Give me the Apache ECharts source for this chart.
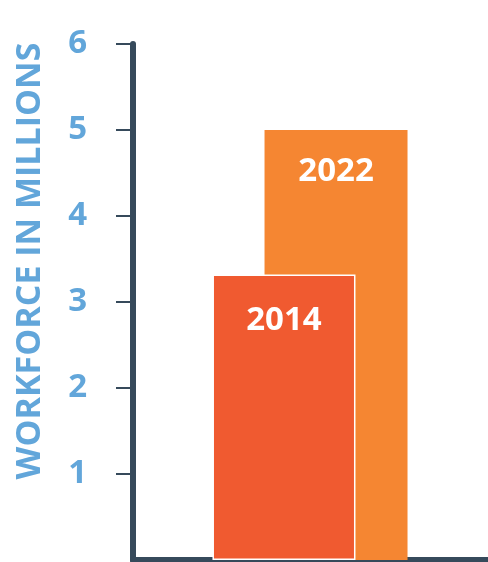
<!DOCTYPE html>
<html>
<head>
<meta charset="utf-8">
<script src="https://cdn.jsdelivr.net/npm/echarts@6/dist/echarts.min.js"></script>
<style>
  html, body { margin: 0; padding: 0; background: #fff; }
  #chart { width: 488px; height: 562px; }
</style>
</head>
<body>
<div id="chart"></div>
<script>
// data
const categories = ['Workforce'];
const years = ['2014', '2022'];
const values2014 = [3.32];
const values2022 = [5.0];
const yTicks = [1, 2, 3, 4, 5, 6];

const axisColor = '#364a5b';
const labelBlue = '#62a6da';

const myChart = echarts.init(document.getElementById('chart'));

const option = {
    animation: false,
    grid: { left: 133, right: 1, top: 44, bottom: 2, containLabel: false },
    xAxis: {
        type: 'category',
        data: categories,
        axisLine: { lineStyle: { color: axisColor, width: 6 } },
        axisTick: { show: false },
        axisLabel: { show: false }
    },
    yAxis: {
        type: 'value',
        min: 0,
        max: 6,
        interval: 1,
        name: 'WORKFORCE IN MILLIONS',
        nameLocation: 'middle',
        nameRotate: 90,
        nameGap: 86,
        nameTextStyle: {
            color: labelBlue,
            fontFamily: 'Open Sans',
            fontWeight: 'bold',
            fontSize: 34,
            // nudge the title up so it sits where the original does
            padding: [0, 0, 0, 82]
        },
        axisLine: { show: true, lineStyle: { color: axisColor, width: 6 } },
        axisTick: {
            show: true,
            length: 17,
            customValues: yTicks,
            lineStyle: { color: axisColor, width: 2 }
        },
        axisLabel: {
            customValues: yTicks,
            margin: 46,
            color: labelBlue,
            fontFamily: 'Open Sans',
            fontWeight: 'bold',
            fontSize: 33
        },
        splitLine: { show: false }
    },
    series: [
        {
            name: years[0],
            type: 'bar',
            data: values2014,
            barWidth: 143,
            barGap: '-63.6%',
            z: 3,
            itemStyle: { color: '#f05a30', borderColor: '#ffffff', borderWidth: 1.5 },
            label: {
                show: true,
                position: 'insideTop',
                distance: 30,
                formatter: years[0],
                color: '#fff',
                fontFamily: 'Open Sans',
                fontWeight: 'bold',
                fontSize: 33
            }
        },
        {
            name: years[1],
            type: 'bar',
            data: values2022,
            barWidth: 143,
            z: 2,
            itemStyle: { color: '#f58632' },
            label: {
                show: true,
                position: 'insideTop',
                distance: 25,
                formatter: years[1],
                color: '#fff',
                fontFamily: 'Open Sans',
                fontWeight: 'bold',
                fontSize: 33
            }
        }
    ]
};

myChart.setOption(option);
</script>
</body>
</html>
